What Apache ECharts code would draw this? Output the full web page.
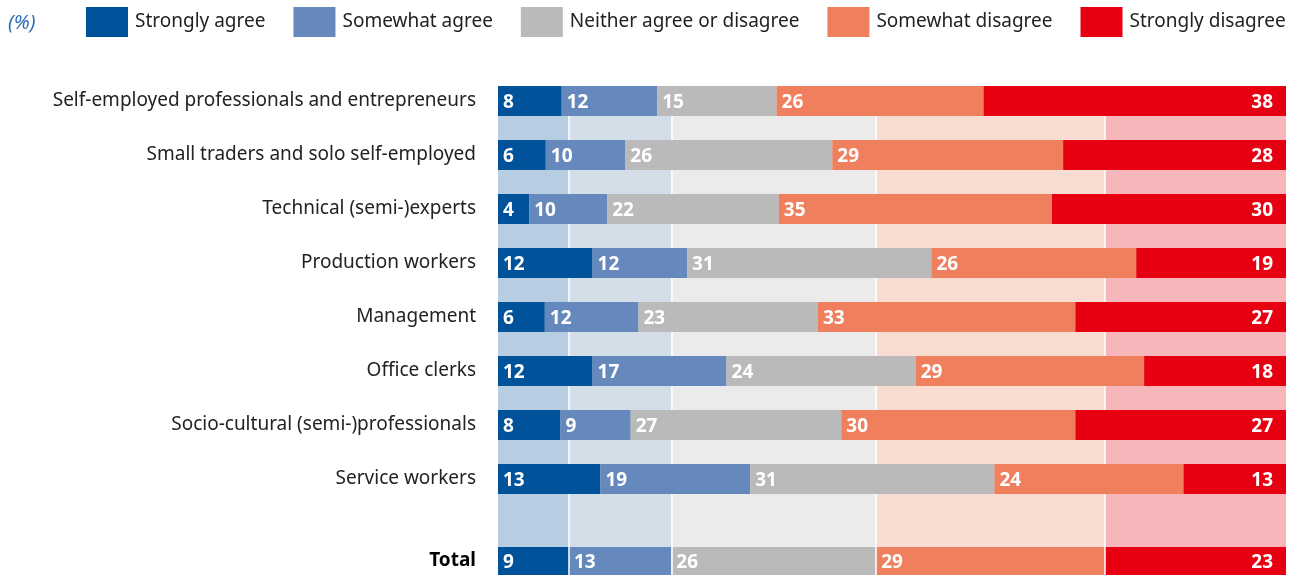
<!DOCTYPE html>
<html>
<head>
<meta charset="utf-8">
<script src="https://cdn.jsdelivr.net/npm/echarts@6/dist/echarts.min.js"></script>
<style>
  html, body { margin: 0; padding: 0; background: #fff; }
  #chart { width: 1291px; height: 575px; }
</style>
</head>
<body>
<div id="chart"></div>
<script>
// Occupational groups (top to bottom)
const categories = [
  'Self-employed professionals and entrepreneurs',
  'Small traders and solo self-employed',
  'Technical (semi-)experts',
  'Production workers',
  'Management',
  'Office clerks',
  'Socio-cultural (semi-)professionals',
  'Service workers'
];
const seriesNames = ['Strongly agree', 'Somewhat agree', 'Neither agree or disagree', 'Somewhat disagree', 'Strongly disagree'];

// Shares in % per group
const stronglyAgree    = [8, 6, 4, 12, 6, 12, 8, 13];
const somewhatAgree    = [12, 10, 10, 12, 12, 17, 9, 19];
const neither          = [15, 26, 22, 31, 23, 24, 27, 31];
const somewhatDisagree = [26, 29, 35, 26, 33, 29, 30, 24];
const stronglyDisagree = [38, 28, 30, 19, 27, 18, 27, 13];

// Total row
const totalLabel = 'Total';
const totalValues = [9, 13, 26, 29, 23];

const colors   = ['#00529b', '#6589bd', '#b9bab9', '#f07f5e', '#e60012'];
const bgColors = ['#b7cde2', '#d3dee9', '#ebebeb', '#f8dcd2', '#f7b6b9'];

const groups = [stronglyAgree, somewhatAgree, neither, somewhatDisagree, stronglyDisagree];
const rowSums = categories.map((_, i) => groups.reduce((s, g) => s + g[i], 0));
const totalSum = totalValues.reduce((a, b) => a + b, 0);

// Boundaries between the total segments, used as band separators
const totalBounds = [];
totalValues.reduce((acc, v, i) => {
  const c = acc + v;
  if (i < totalValues.length - 1) totalBounds.push(c / totalSum * 100);
  return c;
}, 0);

const FONT = '"Noto Sans", "Open Sans", sans-serif';

const valueLabel = (pos, dist) => ({
  show: true,
  position: pos,
  distance: dist,
  offset: [0, 2],
  color: '#fff',
  fontFamily: FONT,
  fontWeight: 'bold',
  fontSize: 19,
  formatter: p => p.data.raw
});

const separators = z => ({
  silent: true,
  z: z,
  symbol: 'none',
  label: { show: false },
  emphasis: { disabled: true },
  lineStyle: { color: '#fff', width: 1.5, type: 'solid' },
  data: totalBounds.map(b => ({ xAxis: b }))
});

const series = [];

// Background bands from the total distribution
totalValues.forEach((v, i) => {
  const s = {
    type: 'bar',
    name: '_bg' + i,
    xAxisIndex: 2, yAxisIndex: 2,
    stack: 'bg',
    barWidth: '100%',
    silent: true,
    z: 1,
    data: [v / totalSum * 100],
    itemStyle: { color: bgColors[i] }
  };
  if (i === totalValues.length - 1) s.markLine = separators(2);
  series.push(s);
});

// Total bar
totalValues.forEach((v, i) => {
  const s = {
    type: 'bar',
    name: seriesNames[i],
    xAxisIndex: 1, yAxisIndex: 1,
    stack: 'total',
    barWidth: 30,
    z: 3,
    data: [{ value: v / totalSum * 100, raw: v }],
    itemStyle: { color: colors[i] },
    label: i === 4 ? valueLabel('insideRight', 13) : valueLabel('insideLeft', 5)
  };
  if (i === totalValues.length - 1) s.markLine = separators(4);
  series.push(s);
});

// Group bars
groups.forEach((g, i) => {
  series.push({
    type: 'bar',
    name: seriesNames[i],
    xAxisIndex: 0, yAxisIndex: 0,
    stack: 'rows',
    barWidth: 30,
    z: 10,
    data: g.map((v, j) => ({ value: v / rowSums[j] * 100, raw: v })),
    itemStyle: { color: colors[i] },
    label: i === 4 ? valueLabel('insideRight', 13) : valueLabel('insideLeft', 5)
  });
});

const hiddenX = idx => ({
  type: 'value', gridIndex: idx, min: 0, max: 100,
  show: false, splitLine: { show: false }
});

const option = {
  animation: false,
  backgroundColor: '#fff',
  graphic: [{
    type: 'text',
    left: 8, top: 13,
    style: { text: '(%)', font: 'italic 20px ' + FONT, fill: '#2f6db5' }
  }],
  legend: {
    left: 86, top: 7,
    padding: 0,
    itemWidth: 42, itemHeight: 30, itemGap: 28,
    icon: 'rect',
    data: seriesNames,
    textStyle: { fontFamily: FONT, fontSize: 19, color: '#222', padding: [5, 0, 0, 2] },
    selectedMode: false
  },
  grid: [
    { left: 498, right: 5, top: 74, height: 432 },
    { left: 498, right: 5, top: 547, height: 30 },
    { left: 498, right: 5, top: 86, bottom: 0 }
  ],
  xAxis: [hiddenX(0), hiddenX(1), hiddenX(2)],
  yAxis: [
    {
      type: 'category', gridIndex: 0, data: categories, inverse: true,
      axisLine: { show: false }, axisTick: { show: false },
      axisLabel: { margin: 22, fontFamily: FONT, fontSize: 19, color: '#222', padding: [8, 0, 0, 0] }
    },
    {
      type: 'category', gridIndex: 1, data: [totalLabel],
      axisLine: { show: false }, axisTick: { show: false },
      axisLabel: { margin: 22, fontFamily: FONT, fontSize: 19, fontWeight: 'bold', color: '#000', padding: [8, 0, 0, 0] }
    },
    {
      type: 'category', gridIndex: 2, data: ['bg'], show: false
    }
  ],
  series
};

const chart = echarts.init(document.getElementById('chart'), null, { renderer: 'canvas' });
chart.setOption(option);
</script>
</body>
</html>
